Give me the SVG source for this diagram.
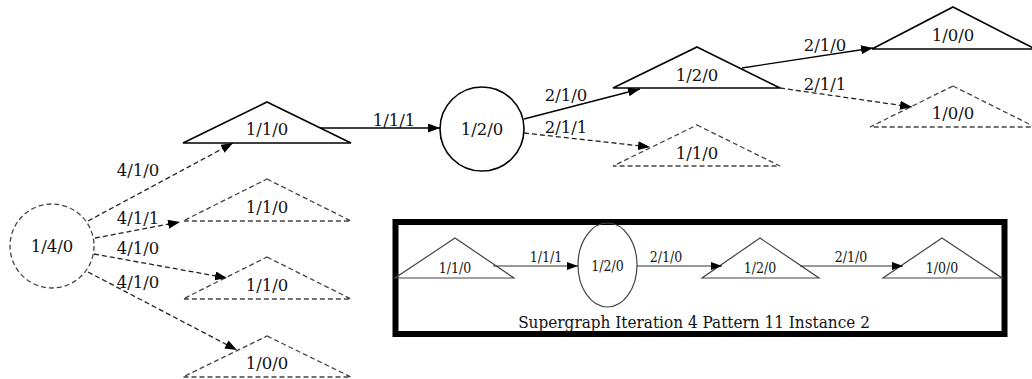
<svg xmlns="http://www.w3.org/2000/svg" width="1032" height="379" viewBox="0 0 1032 379">
  <defs>
    <marker id="arrow" markerUnits="userSpaceOnUse" markerWidth="13" markerHeight="10" refX="12" refY="4.5" orient="auto">
      <path d="M0,0 L12,4.5 L0,9 z" fill="#000"/>
    </marker>
    <marker id="arrow-s" markerUnits="userSpaceOnUse" markerWidth="12" markerHeight="9" refX="11" refY="4" orient="auto">
      <path d="M0,0 L11,4 L0,8 z" fill="#000"/>
    </marker>
  </defs>
  <style>
    .solid { fill: none; stroke: #000; stroke-width: 1.6; }
    .dash { fill: none; stroke: #444; stroke-width: 1.3; stroke-dasharray: 5,3; }
    .edge { fill: none; stroke: #000; stroke-width: 1.3; marker-end: url(#arrow); }
    .edge.d { stroke: #222; stroke-dasharray: 5,3; }
    .lg { fill: none; stroke: #444; stroke-width: 1.2; }
    .ledge { fill: none; stroke: #333; stroke-width: 1.2; marker-end: url(#arrow-s); }
    text { font-family: "DejaVu Serif", "Liberation Serif", serif; fill: #111; }
    .lbl { font-size: 16.5px; text-anchor: middle; }
    .sm { font-size: 14px; font-stretch: condensed; text-anchor: middle; font-family: "DejaVu Serif Condensed", "DejaVu Serif", serif; }
    .cap { font-size: 17px; font-stretch: condensed; text-anchor: middle; font-family: "DejaVu Serif Condensed", "DejaVu Serif", serif; }
  </style>

  <!-- main graph nodes -->
  <g id="n-root">
    <circle class="dash" cx="52" cy="246" r="42"/>
    <text class="lbl" x="52" y="252">1/4/0</text>
  </g>
  <g id="n-a">
    <polygon class="solid" points="267,102 351,143 183,143"/>
    <text class="lbl" x="267" y="135">1/1/0</text>
  </g>
  <g id="n-b">
    <polygon class="dash" points="267,179 351,221 183,221"/>
    <text class="lbl" x="267" y="213">1/1/0</text>
  </g>
  <g id="n-c">
    <polygon class="dash" points="267,257 351,299 183,299"/>
    <text class="lbl" x="267" y="291">1/1/0</text>
  </g>
  <g id="n-d">
    <polygon class="dash" points="267,336 351,377 183,377"/>
    <text class="lbl" x="267" y="369">1/0/0</text>
  </g>
  <g id="n-mid">
    <circle class="solid" cx="482" cy="129" r="42"/>
    <text class="lbl" x="482" y="135">1/2/0</text>
  </g>
  <g id="n-e">
    <polygon class="solid" points="697,47 780,88 613,88"/>
    <text class="lbl" x="697" y="81">1/2/0</text>
  </g>
  <g id="n-f">
    <polygon class="dash" points="697,125 780,166 613,166"/>
    <text class="lbl" x="697" y="159">1/1/0</text>
  </g>
  <g id="n-g">
    <polygon class="solid" points="953,7 1035,49 872,49"/>
    <text class="lbl" x="953" y="41">1/0/0</text>
  </g>
  <g id="n-h">
    <polygon class="dash" points="953,86 1035,127 870,127"/>
    <text class="lbl" x="953" y="119">1/0/0</text>
  </g>

  <!-- main graph connectors -->
  <g id="edges">
    <line class="edge d" x1="88" y1="221" x2="233" y2="143"/>
    <line class="edge d" x1="95" y1="238" x2="180" y2="222"/>
    <line class="edge d" x1="94" y1="254" x2="227" y2="278"/>
    <line class="edge d" x1="88" y1="272" x2="237" y2="350"/>
    <line class="edge" x1="320" y1="128" x2="440" y2="128"/>
    <line class="edge" x1="524" y1="119" x2="640" y2="89"/>
    <line class="edge d" x1="524" y1="133" x2="650" y2="147"/>
    <line class="edge" x1="742" y1="68" x2="873" y2="48"/>
    <line class="edge d" x1="780" y1="88" x2="912" y2="107"/>
    <text class="lbl" x="138" y="176">4/1/0</text>
    <text class="lbl" x="138" y="224">4/1/1</text>
    <text class="lbl" x="138" y="254">4/1/0</text>
    <text class="lbl" x="138" y="288">4/1/0</text>
    <text class="lbl" x="394" y="126">1/1/1</text>
    <text class="lbl" x="566" y="101">2/1/0</text>
    <text class="lbl" x="566" y="133">2/1/1</text>
    <text class="lbl" x="825" y="51">2/1/0</text>
    <text class="lbl" x="825" y="90">2/1/1</text>
  </g>

  <!-- pattern box -->
  <g id="legend">
    <rect x="395.5" y="222" width="609" height="112" fill="none" stroke="#000" stroke-width="6"/>
    <g id="l-a">
      <polygon class="lg" points="455,238 514,278 395,278"/>
      <text class="sm" x="455" y="273">1/1/0</text>
    </g>
    <g id="l-b">
      <ellipse class="lg" cx="607.5" cy="265" rx="29.5" ry="42"/>
      <text class="sm" x="607.5" y="271">1/2/0</text>
    </g>
    <g id="l-c">
      <polygon class="lg" points="760,238 819,278 702,278"/>
      <text class="sm" x="760" y="273">1/2/0</text>
    </g>
    <g id="l-d">
      <polygon class="lg" points="942,238 1002,278 883,278"/>
      <text class="sm" x="942" y="273">1/0/0</text>
    </g>
    <g id="l-edges">
      <line class="ledge" x1="493" y1="266" x2="578" y2="266"/>
      <line class="ledge" x1="637" y1="266" x2="722" y2="266"/>
      <line class="ledge" x1="800" y1="266" x2="903" y2="266"/>
      <text class="sm" x="546" y="262">1/1/1</text>
      <text class="sm" x="666" y="262">2/1/0</text>
      <text class="sm" x="851" y="262">2/1/0</text>
    </g>
    <text class="cap" x="694" y="328">Supergraph Iteration 4 Pattern 11 Instance 2</text>
  </g>
</svg>
